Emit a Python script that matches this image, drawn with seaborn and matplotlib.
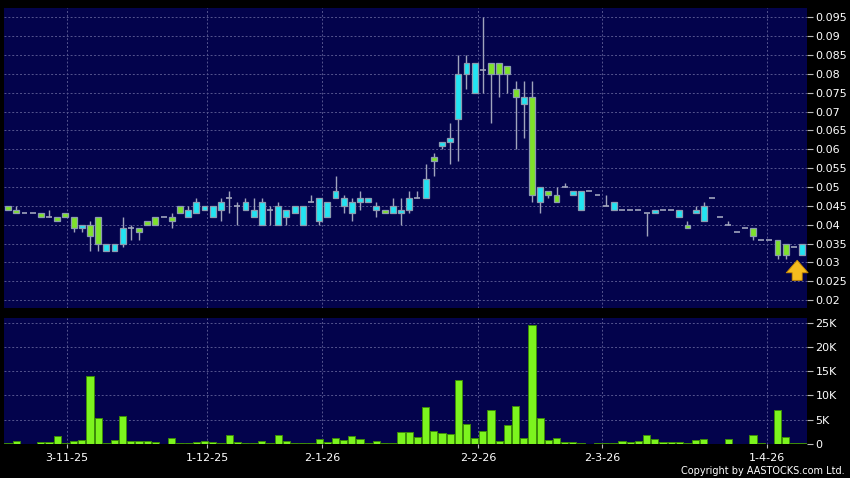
import numpy as np
import pandas as pd
import matplotlib
matplotlib.use('Agg')
import matplotlib.pyplot as plt
import seaborn as sns

# ---- data (one value per trading session) ----
opens = [.045, .044, .043, .043, .043, .042, .042, .043, .042, .039,
         .040, .042, .033, .033, .035, .039, .039, .041, .042, .042,
         .042, .045, .042, .043, .044, .042, .044, .047, .045, .044,
         .042, .040, .044, .040, .042, .043, .040, .046, .041, .042,
         .047, .045, .043, .046, .046, .044, .044, .043, .043, .044,
         .047, .047, .058, .061, .062, .068, .080, .075, .081, .083,
         .083, .082, .076, .072, .074, .046, .049, .048, .050, .048,
         .044, .049, .048, .045, .044, .044, .044, .044, .043, .043,
         .044, .044, .042, .040, .043, .041, .047, .042, .040, .038,
         .039, .039, .036, .036, .036, .035, .034, .032]
highs = [.045, .045, .043, .043, .043, .044, .042, .043, .042, .040,
         .041, .042, .035, .035, .042, .040, .039, .041, .042, .042,
         .043, .045, .045, .047, .045, .045, .047, .049, .046, .047,
         .047, .047, .045, .046, .044, .045, .045, .048, .047, .046,
         .053, .048, .047, .049, .047, .046, .044, .047, .047, .049,
         .049, .056, .059, .062, .067, .085, .085, .083, .095, .083,
         .083, .082, .078, .078, .078, .050, .049, .050, .051, .049,
         .049, .049, .048, .048, .046, .044, .044, .044, .043, .044,
         .044, .044, .044, .041, .045, .046, .047, .042, .041, .038,
         .039, .039, .036, .036, .036, .035, .034, .035]
lows = [.044, .043, .043, .043, .042, .042, .041, .042, .038, .038,
        .033, .033, .033, .033, .034, .036, .036, .040, .040, .042,
        .039, .043, .042, .043, .044, .042, .041, .043, .040, .044,
        .042, .040, .040, .040, .040, .043, .040, .046, .040, .042,
        .047, .043, .041, .044, .046, .042, .043, .043, .040, .043,
        .047, .047, .053, .060, .056, .057, .076, .075, .075, .067,
        .074, .075, .060, .063, .046, .043, .047, .046, .050, .048,
        .044, .049, .048, .045, .044, .044, .044, .044, .037, .043,
        .044, .044, .042, .039, .043, .041, .047, .042, .040, .038,
        .039, .036, .036, .036, .031, .031, .034, .032]
closes = [.044, .043, .043, .043, .042, .042, .041, .042, .039, .040,
          .037, .035, .035, .035, .039, .039, .038, .040, .040, .042,
          .041, .043, .044, .046, .045, .045, .046, .047, .045, .046,
          .044, .046, .044, .045, .044, .045, .045, .046, .047, .046,
          .049, .047, .046, .047, .047, .045, .043, .045, .044, .047,
          .047, .052, .057, .062, .063, .080, .083, .083, .081, .080,
          .080, .080, .074, .074, .048, .050, .048, .046, .050, .049,
          .049, .049, .048, .045, .046, .044, .044, .044, .043, .044,
          .044, .044, .044, .039, .044, .045, .047, .042, .040, .038,
          .039, .037, .036, .036, .032, .032, .034, .035]
volumes = [100, 550, 0, 0, 250, 250, 1650, 50, 500, 700,
           13900, 5300, 50, 750, 5650, 550, 500, 550, 350, 0,
           1100, 50, 50, 350, 500, 250, 100, 1750, 350, 50,
           200, 500, 50, 1800, 500, 50, 200, 200, 1050, 350,
           1200, 750, 1600, 1000, 50, 500, 50, 50, 2350, 2400,
           1400, 7600, 2700, 2150, 2000, 13150, 4150, 1200, 2700, 7000,
           600, 3950, 7800, 1200, 24500, 5400, 850, 1100, 400, 250,
           50, 0, 150, 200, 150, 550, 250, 600, 1850, 900,
           250, 250, 250, 150, 750, 1000, 0, 0, 900, 0,
           0, 1900, 100, 0, 6950, 1400, 200, 200]

date_labels = ['3-11-25', '1-12-25', '2-1-26', '2-2-26', '2-3-26', '1-4-26']
date_pos = [7.2, 24.3, 38.4, 57.4, 72.6, 92.7]
price_ticks = [0.02, 0.025, 0.03, 0.035, 0.04, 0.045, 0.05, 0.055,
               0.06, 0.065, 0.07, 0.075, 0.08, 0.085, 0.09, 0.095]
vol_ticks = [0, 5000, 10000, 15000, 20000, 25000]
vol_labels = ['0', '5K', '10K', '15K', '20K', '25K']

df = pd.DataFrame({'open': opens, 'high': highs, 'low': lows,
                   'close': closes, 'volume': volumes})
df['idx'] = np.arange(len(df))

# colours
NAVY = '#03034c'
UP = '#22e4f2'
DOWN = '#7ee22a'
EDGE = '#8c9cb0'
WICK = '#a0a4bc'
GRID = '#55558f'
VOLC = '#7cf41e'

sns.set_theme(style='dark')
plt.rcParams['font.family'] = ['DejaVu Sans']

fig = plt.figure(figsize=(8.5, 4.78), dpi=100, facecolor='black')
ax = fig.add_axes([4 / 850, 170 / 478, 803 / 850, 300 / 478])
axv = fig.add_axes([4 / 850, 34.3 / 478, 803 / 850, 125.7 / 478])

for a in (ax, axv):
    a.set_facecolor(NAVY)
    for s in a.spines.values():
        s.set_visible(False)

# ---- candles ----
bw = 0.72
for r in df.itertuples():
    if r.high > r.low:
        ax.vlines(r.idx, r.low, r.high, color=WICK, lw=1, zorder=2)
    if r.open == r.close:
        ax.hlines(r.close, r.idx - bw / 2, r.idx + bw / 2, color=WICK, lw=1.2, zorder=3)
    else:
        fill = UP if r.close > r.open else DOWN
        ax.bar(r.idx, abs(r.close - r.open), bottom=min(r.open, r.close), width=bw,
               color=fill, edgecolor=EDGE, linewidth=0.9, zorder=3)

# yellow marker arrow under the last candle
ax.annotate('', xy=(96.4, 0.0313), xytext=(96.4, 0.0245),
            arrowprops=dict(arrowstyle='simple,head_length=0.6,head_width=1.05,tail_width=0.48',
                            mutation_scale=15, fc='#f6bc1e', ec='#c88a00', lw=0.6),
            zorder=5)

ax.set_xlim(-0.5, 97.6)
ax.set_ylim(0.0179, 0.0975)
ax.yaxis.tick_right()
ax.set_yticks(price_ticks)
ax.set_yticklabels([f'{v:g}' for v in price_ticks])
ax.set_xticks(date_pos)
ax.set_xticklabels([])
ax.tick_params(axis='x', length=0)
ax.tick_params(axis='y', length=4, width=0.8, color='#bbbbbb', labelcolor='white',
               labelsize=8, pad=2, right=True, left=False)
ax.grid(True, color=GRID, linestyle=(0, (2, 2)), linewidth=0.7)
ax.set_axisbelow(True)

# ---- volume ----
sns.barplot(data=df, x='idx', y='volume', ax=axv, color=VOLC, saturation=1,
            width=0.88, edgecolor='#3c8c08', linewidth=0.7, errorbar=None, zorder=3)
axv.set_xlim(-0.5, 97.6)
axv.set_ylim(0, 26000)
axv.yaxis.tick_right()
axv.set_yticks(vol_ticks)
axv.set_yticklabels(vol_labels)
axv.set_xticks(date_pos)
axv.set_xticklabels(date_labels)
axv.set_xlabel('')
axv.set_ylabel('')
axv.tick_params(axis='x', length=3, width=0.8, color='#bbbbbb', labelcolor='white',
                labelsize=8, pad=4, bottom=True)
axv.tick_params(axis='y', length=4, width=0.8, color='#bbbbbb', labelcolor='white',
                labelsize=8, pad=2, right=True, left=False)
axv.grid(True, color=GRID, linestyle=(0, (2, 2)), linewidth=0.7)
axv.set_axisbelow(True)

fig.text(845 / 850, 1 - 471 / 478, 'Copyright by AASTOCKS.com Ltd.', color='white',
         fontsize=7, ha='right', va='center')

fig.savefig('out.png', dpi=100, facecolor='black')
